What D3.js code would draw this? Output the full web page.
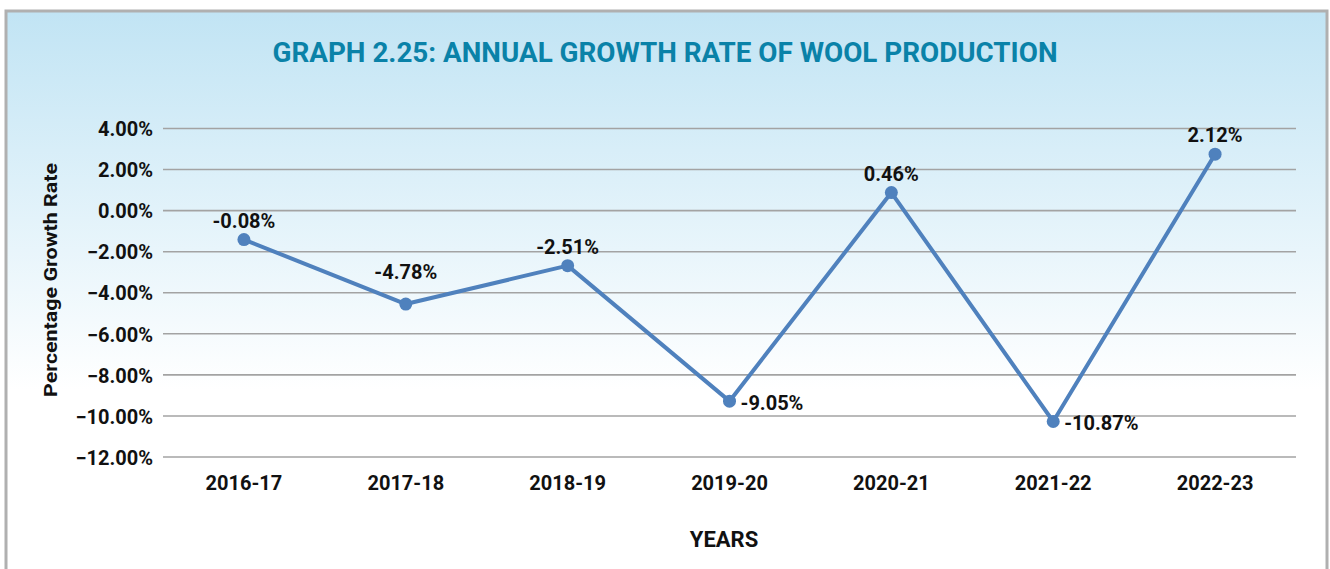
<!DOCTYPE html>
<html>
<head>
<meta charset="utf-8">
<script src="https://cdn.jsdelivr.net/npm/d3@7"></script>
<style>
  html, body { margin: 0; padding: 0; background: #ffffff; }
  svg { display: block; }
  text { font-family: Roboto, "Noto Sans", sans-serif; font-weight: 700; }
</style>
</head>
<body>
<svg id="chart" width="1330" height="569"></svg>
<script>
// ---- data ----
const years = ["2016-17", "2017-18", "2018-19", "2019-20", "2020-21", "2021-22", "2022-23"];
// values as plotted in the picture (percent)
const growth = [-1.41, -4.55, -2.68, -9.28, 0.88, -10.27, 2.75];
// data labels as printed in the picture
const dataLabels = ["-0.08%", "-4.78%", "-2.51%", "-9.05%", "0.46%", "-10.87%", "2.12%"];
const labelSide = ["top", "topHigh", "top", "right", "top", "right", "top"];
const yTicks = [4, 2, 0, -2, -4, -6, -8, -10, -12];
const titleText = "GRAPH 2.25: ANNUAL GROWTH RATE OF WOOL PRODUCTION";
const yTitle = "Percentage Growth Rate";
const xTitle = "YEARS";

// ---- layout ----
const plot = { left: 163, right: 1296, top: 128.5, bottom: 457 };

const svg = d3.select("#chart");
const defs = svg.append("defs");
const grad = defs.append("linearGradient")
  .attr("id", "bg")
  .attr("gradientUnits", "userSpaceOnUse")
  .attr("x1", 0).attr("y1", 10).attr("x2", 0).attr("y2", 390);
grad.append("stop").attr("offset", "0%").attr("stop-color", "#c1e4f4");
grad.append("stop").attr("offset", "100%").attr("stop-color", "#ffffff");

// frame
svg.append("rect")
  .attr("x", 6).attr("y", 11).attr("width", 1321).attr("height", 600)
  .attr("fill", "url(#bg)")
  .attr("stroke", "#b0b0b0").attr("stroke-width", 3);

// title
svg.append("text")
  .attr("x", 665).attr("y", 62)
  .attr("text-anchor", "middle")
  .attr("font-size", 28)
  .attr("fill", "#0a82a8")
  .attr("textLength", 785).attr("lengthAdjust", "spacingAndGlyphs")
  .text(titleText);

// scales
const x = d3.scaleBand().domain(years).range([plot.left, plot.right]);
const y = d3.scaleLinear().domain([-12, 4]).range([plot.bottom, plot.top]);

// gridlines
svg.append("g").selectAll("line").data(yTicks).join("line")
  .attr("x1", plot.left).attr("x2", plot.right)
  .attr("y1", d => y(d)).attr("y2", d => y(d))
  .attr("stroke", "#a3a3a3").attr("stroke-width", 1.6);

// y axis labels
const yAxis = d3.axisLeft(y).tickValues(yTicks).tickSize(0).tickPadding(10)
  .tickFormat(d => d3.format(".2f")(d) + "%");
const gy = svg.append("g").attr("transform", `translate(${plot.left},0)`).call(yAxis);
gy.select(".domain").remove();
gy.selectAll("text").attr("font-size", 20).attr("fill", "#111").attr("dy", "0.36em")
  .attr("font-family", "Roboto, sans-serif").attr("font-weight", 700);

// x axis labels
const xAxis = d3.axisBottom(x).tickSize(0).tickPadding(0);
const gx = svg.append("g").attr("transform", `translate(0,${plot.bottom})`).call(xAxis);
gx.select(".domain").remove();
gx.selectAll("text").attr("font-size", 20).attr("fill", "#111").attr("dy", 0).attr("y", 33)
  .attr("font-family", "Roboto, sans-serif").attr("font-weight", 700);

// axis titles
svg.append("text")
  .attr("transform", `translate(57,${(163 + 397) / 2}) rotate(-90)`)
  .attr("text-anchor", "middle")
  .attr("font-size", 18).attr("fill", "#111")
  .attr("textLength", 234).attr("lengthAdjust", "spacingAndGlyphs")
  .text(yTitle);

svg.append("text")
  .attr("x", 724).attr("y", 547)
  .attr("text-anchor", "middle")
  .attr("font-size", 22).attr("fill", "#111")
  .text(xTitle);

// line
const pts = years.map((yr, i) => ({ yr, v: growth[i], label: dataLabels[i], side: labelSide[i] }));
const cx = d => x(d.yr) + x.bandwidth() / 2;
svg.append("path").datum(pts)
  .attr("fill", "none").attr("stroke", "#4f81bd").attr("stroke-width", 4)
  .attr("stroke-linejoin", "round")
  .attr("d", d3.line().x(cx).y(d => y(d.v)));

svg.append("g").selectAll("circle").data(pts).join("circle")
  .attr("cx", cx).attr("cy", d => y(d.v)).attr("r", 6.5)
  .attr("fill", "#4f81bd");

// data labels
const labelDy = { top: -12, topHigh: -25, right: 9 };
svg.append("g").selectAll("text").data(pts).join("text")
  .attr("x", d => d.side === "right" ? cx(d) + 11 : cx(d))
  .attr("y", d => y(d.v) + labelDy[d.side])
  .attr("text-anchor", d => d.side === "right" ? "start" : "middle")
  .attr("font-size", 20).attr("fill", "#111")
  .text(d => d.label);
</script>
</body>
</html>
